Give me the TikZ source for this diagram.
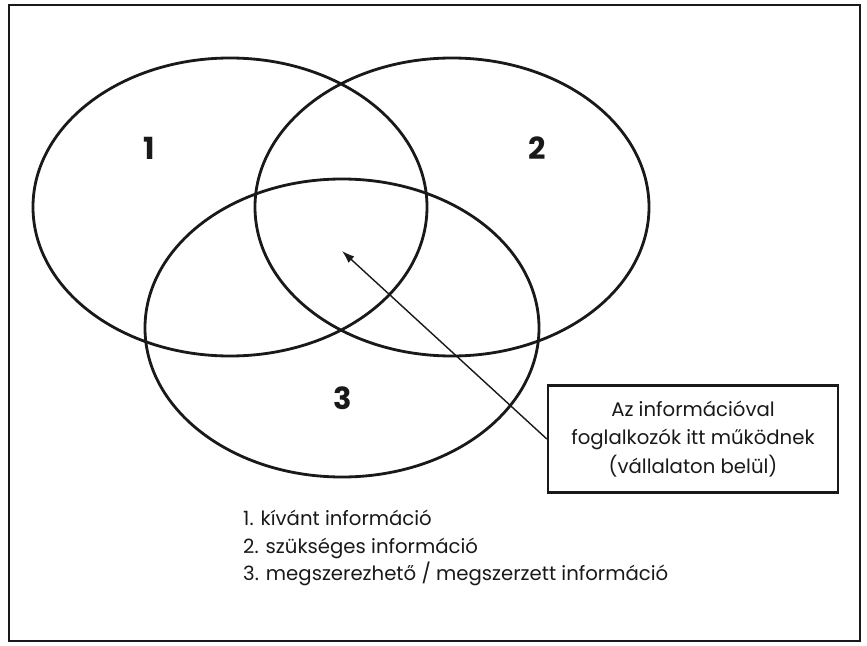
\documentclass[tikz,border=0pt]{standalone}
\usepackage{fontspec}
\setmainfont{Poppins}
\usepackage{xcolor}
\definecolor{inkblack}{RGB}{25,25,25}
\usepackage{tikz}
\usetikzlibrary{arrows.meta, positioning, shapes.geometric}

\begin{document}
\begin{tikzpicture}[x=0.03cm, y=-0.03cm,
    venn/.style={ellipse, draw=inkblack, line width=2.4pt, inner sep=0pt,
                 minimum width=11.82cm, minimum height=8.94cm},
    setno/.style={font=\fontsize{26}{26}\selectfont\bfseries, text=inkblack},
    notebox/.style={draw=inkblack, line width=2pt, align=center, inner sep=0pt,
                    minimum width=8.7cm, minimum height=3.21cm,
                    font=\fontsize{16.8}{24.6}\selectfont, text=inkblack},
    legendtxt/.style={align=left, inner sep=0pt,
                      font=\fontsize{16.8}{23.8}\selectfont, text=inkblack}]
  % Canvas and frame
  \useasboundingbox (0,0) rectangle (867,646);
  \draw[inkblack, line width=1.6pt] (9,5) rectangle (860,641);

  % The three sets
  \node[venn] (set1) at (230,207) {};
  \node[venn] (set2) at (452,207) {};
  \node[venn] (set3) at (342,328) {};

  % Set numbers
  \node[setno] (no1) at (149,148) {1};
  \node[setno] (no2) at (537,148) {2};
  \node[setno] (no3) at (343,398) {3};

  % Callout box with arrow into the common part
  \node[notebox] (note) at (693,439) {Az információval\\foglalkozók itt működnek\\(vállalaton belül)};
  \coordinate (core) at (342,251);
  \draw[-{Latex[length=3.8mm, width=2.6mm]}, inkblack, line width=1.2pt] (note.west) -- (core);

  % Legend
  \node[legendtxt, anchor=west] (legend) at (243,548) {1. kívánt információ\\2. szükséges információ\\3. megszerezhető / megszerzett információ};
\end{tikzpicture}
\end{document}
